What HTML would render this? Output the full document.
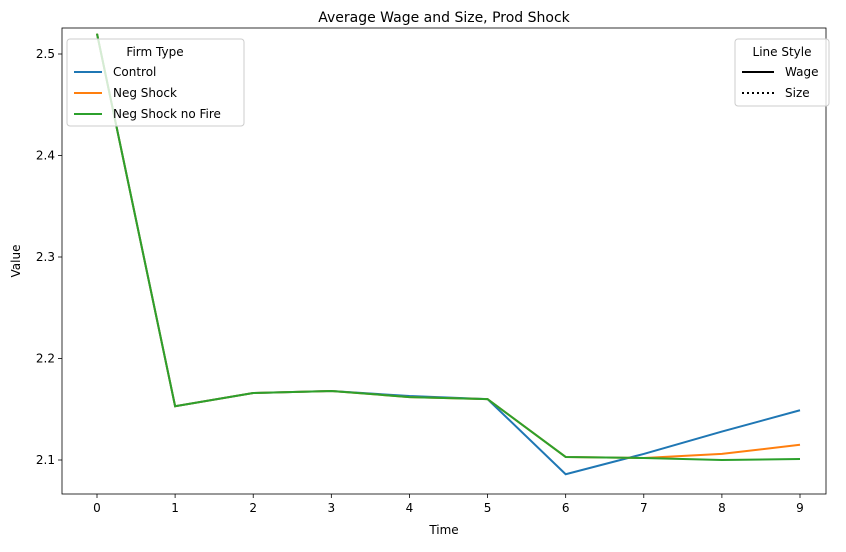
<!DOCTYPE html>
<html><head><meta charset="utf-8"><style>
body{margin:0;background:#fff;font-family:"Liberation Sans","DejaVu Sans",sans-serif;}
svg text{font-family:"DejaVu Sans","Liberation Sans",sans-serif;}
</style></head><body>
<svg id="chart" width="846" height="547" xmlns="http://www.w3.org/2000/svg"></svg>
<script>
const times=[0,1,2,3,4,5,6,7,8,9];
const control=[2.52,2.153,2.166,2.168,2.163,2.160,2.086,2.106,2.128,2.149];
const negShock=[2.52,2.153,2.166,2.168,2.162,2.160,2.103,2.102,2.106,2.115];
const negNoFire=[2.52,2.153,2.166,2.168,2.162,2.160,2.103,2.102,2.100,2.101];
const yTicks=[2.1,2.2,2.3,2.4,2.5];
const NS="http://www.w3.org/2000/svg";
const svg=document.getElementById('chart');
const L=62,R=826,T=28,B=494;
const xs=t=>97+t*(800-97)/9;
const ys=v=>460-(v-2.1)*(460-54)/0.4;
function el(tag,attrs,parent){const e=document.createElementNS(NS,tag);for(const k in attrs)e.setAttribute(k,attrs[k]);(parent||svg).appendChild(e);return e;}
function txt(s,attrs){const e=el('text',attrs);e.textContent=s;return e;}
const frame=el('rect',{x:L,y:T,width:R-L,height:B-T,fill:'none',stroke:'#000','stroke-width':0.8});


times.forEach(t=>{
  const tk=el('line',{x1:xs(t),x2:xs(t),y1:B,y2:B+4,stroke:'#000','stroke-width':0.8});
  
  
  const lb=txt(String(t),{x:xs(t),y:B+18,'font-size':12,'text-anchor':'middle'});
  
  
});
yTicks.forEach(v=>{
  const tk=el('line',{x1:L-4,x2:L,y1:ys(v),y2:ys(v),stroke:'#000','stroke-width':0.8});
  
  
  const lb=txt(v.toFixed(1),{x:L-7,y:ys(v)+4,'font-size':12,'text-anchor':'end'});
  
  
});
const series=[[control,'#1f77b4','control-wage-line'],[negShock,'#ff7f0e','neg-shock-wage-line'],[negNoFire,'#2ca02c','neg-shock-no-fire-wage-line']];
series.forEach(([d,c,n])=>{
  const p=el('polyline',{points:d.map((v,i)=>xs(times[i])+','+ys(v)).join(' '),fill:'none',stroke:c,'stroke-width':2});
  
  
});
const title=txt('Average Wage and Size, Prod Shock',{x:444,y:22,'font-size':14,'text-anchor':'middle'});


const xt=txt('Time',{x:444,y:534,'font-size':12,'text-anchor':'middle'});


const yt=txt('Value',{x:20,y:261,'font-size':12,'text-anchor':'middle',transform:'rotate(-90 20 261)'});


// legend 1
const g1=el('g',{});


el('rect',{x:67,y:39,width:177,height:87,rx:3,fill:'#fff','fill-opacity':0.8,stroke:'#ccc'},g1);
const t1=el('text',{x:155,y:56,'font-size':12,'text-anchor':'middle'},g1);t1.textContent='Firm Type';
[['Control','#1f77b4'],['Neg Shock','#ff7f0e'],['Neg Shock no Fire','#2ca02c']].forEach(([n,c],i)=>{
  const y=72+i*21;
  const e=el('g',{},g1);
  
  
  el('line',{x1:74,x2:102,y1:y,y2:y,stroke:c,'stroke-width':2},e);
  const tt=el('text',{x:113,y:y+4,'font-size':12},e);tt.textContent=n;
});
// legend 2
const g2=el('g',{});


el('rect',{x:735,y:39,width:94,height:67,rx:3,fill:'#fff','fill-opacity':0.8,stroke:'#ccc'},g2);
const t2=el('text',{x:782,y:56,'font-size':12,'text-anchor':'middle'},g2);t2.textContent='Line Style';
[['Wage',''],['Size','2,3']].forEach(([n,d],i)=>{
  const y=72+i*21;
  const e=el('g',{},g2);
  
  
  const ln=el('line',{x1:742,x2:774,y1:y,y2:y,stroke:'#000','stroke-width':2},e);
  if(d)ln.setAttribute('stroke-dasharray',d);
  const tt=el('text',{x:785,y:y+4,'font-size':12},e);tt.textContent=n;
});
</script>
</body></html>
